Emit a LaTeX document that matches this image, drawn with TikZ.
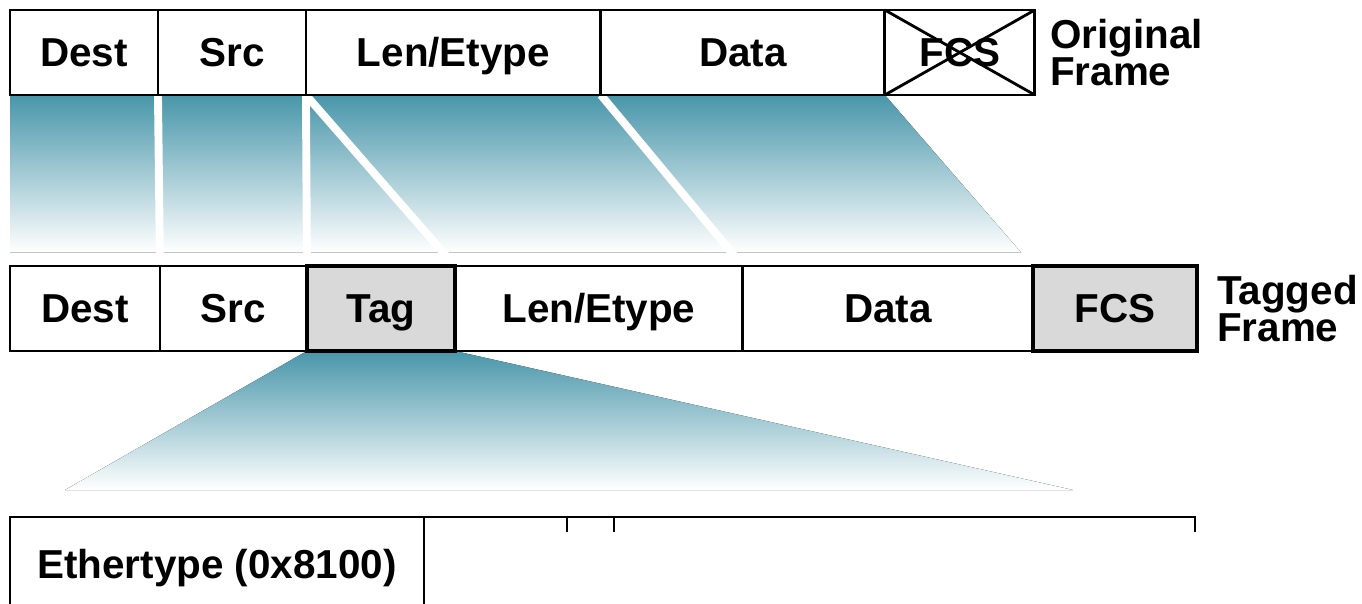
\documentclass[tikz,border=0pt]{standalone}
\usepackage{fontspec}
\setmainfont{Liberation Sans}
\usetikzlibrary{calc,positioning,backgrounds}

\definecolor{fanteal}{RGB}{72,150,170}
\definecolor{taggray}{RGB}{217,217,217}

\tikzset{
  field/.style={draw,line width=1.6pt,inner sep=0pt,outer sep=0pt,
    minimum height=1.7cm,text height=16.5pt,text depth=0pt,
    font=\fontsize{23}{25}\selectfont\bfseries},
  newfield/.style={field,fill=taggray,line width=2.2pt},
  framelabel/.style={anchor=west,align=left,inner sep=0pt,
    font=\fontsize{23}{21.5}\selectfont\bfseries},
  fan/.style={top color=fanteal,bottom color=white,draw=none},
  gap/.style={white,line width=4.5pt},
  frameline/.style={line width=1.6pt}
}

\begin{document}
\begin{tikzpicture}[x=0.02cm,y=-0.02cm]
\useasboundingbox (0,0) rectangle (1362,604);

% original frame
\node[field,minimum width=2.96cm,anchor=north west] (odest) at (10,10) {Dest};
\node[field,minimum width=2.96cm,right=0pt of odest] (osrc) {Src};
\node[field,minimum width=5.9cm,right=0pt of osrc] (olen) {Len/Etype};
\node[field,minimum width=5.68cm,right=0pt of olen] (odata) {Data};
\node[field,minimum width=3.0cm,right=0pt of odata] (ofcs) {FCS};
\draw[frameline] (ofcs.north west) -- (ofcs.south east);
\draw[frameline] (ofcs.north east) -- (ofcs.south west);
\node[framelabel,right=0.3cm of ofcs] (olabel) {Original\\Frame};

% tagged frame
\tikzset{every node/.append style={minimum height=1.76cm}}
\node[field,minimum width=3.0cm,anchor=north west] (tdest) at (10,266) {Dest};
\node[field,minimum width=2.94cm,right=0pt of tdest] (tsrc) {Src};
\node[field,minimum width=5.76cm,right=2.96cm of tsrc] (tlen) {Len/Etype};
\node[field,minimum width=5.8cm,right=0pt of tlen] (tdata) {Data};
\node[newfield,minimum width=2.96cm,right=0pt of tsrc] (ttag) {Tag};
\node[newfield,minimum width=3.28cm,right=0pt of tdata] (tfcs) {FCS};
\node[framelabel,minimum height=0pt,right=0.4cm of tfcs] (tlabel) {Tagged\\Frame};

% tag fields
\node[field,draw=none,minimum width=8.28cm,minimum height=1.9cm,
  anchor=north west] (eth) at (10,517) {Ethertype (0x8100)};
\coordinate (tagend) at (1195,517);
\draw[frameline] (eth.south west) -- (eth.north west) -- (tagend) -- ++(0,15);
\draw[frameline] (eth.north east) -- (eth.south east);
\foreach \tx in {567,614}
  \draw[frameline] (\tx,517) -- ++(0,15);

% fans
\coordinate (zl) at (65,490);
\coordinate (zr) at (1073,490);
\begin{scope}[on background layer]
\fill[fan] (odest.south west) -- (ofcs.south west)
  -- ($(ofcs.south west)!0.92!(tdata.north east)$)
  -- ($(odest.south west)!0.92!(tdest.north west)$) -- cycle;
\draw[gap] (odest.south east) -- (tdest.north east);
\draw[gap] (osrc.south east) -- (tsrc.north east);
\draw[gap] (osrc.south east) -- (tlen.north west);
\draw[gap] (olen.south east) -- (tdata.north west);
\fill[fan] (ttag.south west) -- (ttag.south east) -- (zr) -- (zl) -- cycle;
\end{scope}
\end{tikzpicture}
\end{document}
